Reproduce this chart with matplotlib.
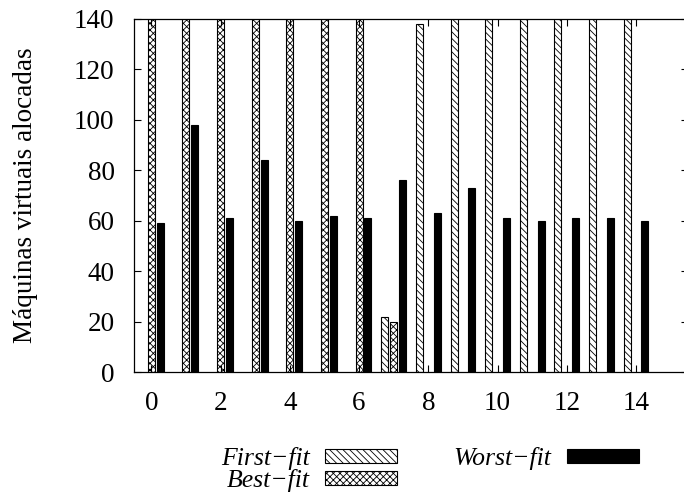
#!/usr/bin/env python3
"""Allocated VMs per run for the three placement heuristics (gnuplot-style bars)."""
import numpy as np
import matplotlib
matplotlib.use("Agg")
import matplotlib.pyplot as plt
from matplotlib.patches import Patch

plt.rcParams["font.family"] = ["Liberation Serif", "DejaVu Serif"]
plt.rcParams["hatch.linewidth"] = 0.6

RUNS = list(range(15))
# values above 140 run off the top of the plot in the original figure
FIRST_FIT = [0, 0, 0, 0, 0, 0, 0, 22, 138, 160, 160, 160, 160, 160, 160]
BEST_FIT = [160, 160, 160, 160, 160, 160, 160, 20, 0, 0, 0, 0, 0, 0, 0]
WORST_FIT = [59, 98, 61, 84, 60, 62, 61, 76, 63, 73, 61, 60, 61, 61, 60]
LABELS = ["First\u2212fit", "Best\u2212fit", "Worst\u2212fit"]
XTICKS = list(range(0, 15, 2))

FS = 19.5


def main():
    fig = plt.figure(figsize=(6.84, 5.04), dpi=100)
    ax = fig.add_axes([134 / 684, 1 - 372 / 504, (688 - 134) / 684, (372 - 19) / 504])

    x = np.array(RUNS)
    w = 0.2
    off = 0.256
    styles = [
        dict(facecolor="white", hatch="\\" * 5),
        dict(facecolor="white", hatch="x" * 5),
        dict(facecolor="black"),
    ]
    series = [FIRST_FIT, BEST_FIT, WORST_FIT]
    for k, (vals, st) in enumerate(zip(series, styles)):
        v = np.array(vals, dtype=float)
        mask = v > 0
        ax.bar(x[mask] + (k - 1) * off, v[mask], width=w, edgecolor="black",
               linewidth=0.8, **st)

    ax.set_xlim(-0.5, 15.5)
    ax.set_ylim(0, 140)
    ax.set_xticks(XTICKS)
    ax.set_yticks(range(0, 141, 20))
    ax.tick_params(direction="in", length=5, width=0.8, labelsize=FS,
                   top=True, right=True)
    ax.tick_params(axis="x", pad=14)
    ax.tick_params(axis="y", pad=14)
    for s in ax.spines.values():
        s.set_linewidth(0.9)
    ax.set_ylabel("Máquinas virtuais alocadas", fontsize=FS, labelpad=26)

    handles = [Patch(edgecolor="black", linewidth=0.8, **st) for st in styles]
    fig.legend(handles, LABELS, ncol=2, loc="upper left",
               bbox_to_anchor=(221 / 684, 1 - 447 / 504), frameon=False,
               markerfirst=False, prop={"style": "italic", "size": 18.5},
               handlelength=2.8, handleheight=0.47, handletextpad=0.6,
               columnspacing=2.2, labelspacing=-0.04, borderpad=0,
               borderaxespad=0)

    fig.savefig("out.png", dpi=100)
    plt.close(fig)


if __name__ == "__main__":
    main()
